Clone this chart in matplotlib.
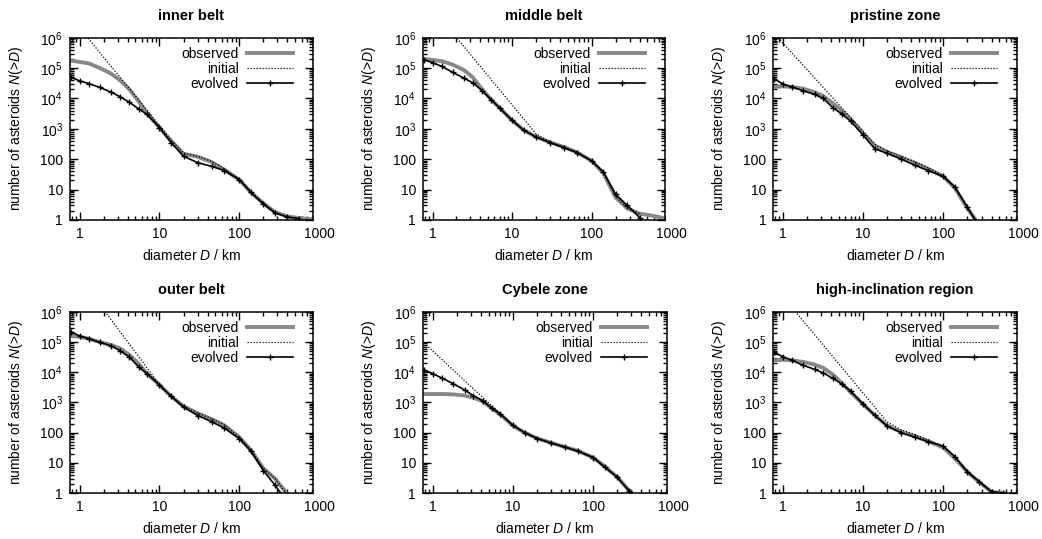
#!/usr/bin/python
# Cumulative size distributions N(>D) for six asteroid belt regions
# observed / initial / evolved populations

import numpy as np
import matplotlib
matplotlib.use('Agg')
import matplotlib.pyplot as plt
from matplotlib.ticker import LogLocator, FixedLocator, FixedFormatter, NullFormatter

plt.rcParams['font.family'] = ['Liberation Sans', 'DejaVu Sans']
plt.rcParams['mathtext.fontset'] = 'custom'
plt.rcParams['mathtext.rm'] = 'Liberation Sans'
plt.rcParams['mathtext.it'] = 'Liberation Sans:italic'
plt.rcParams['mathtext.default'] = 'regular'

nan = np.nan

# common diameter grid in km (observed and evolved curves)
diam = [0.78, 1.0, 1.3, 1.8, 2.5, 3.2, 4.2, 5.5, 7, 10, 14, 20, 30, 45, 65, 100, 140, 200, 280, 400, 560, 800]

# inner belt
inner_obs = [1.75e5, 1.6e5, 1.43e5, 1e5, 6.5e4, 4e4, 2e4, 8e3, 3.2e3, 1.1e3, 400, 150, 120, 80, 45, 21, 8, 3.5, 1.8, 1.3, 1.15, 1.05]
inner_evo = [5e4, 3.8e4, 3.1e4, 2.3e4, 1.6e4, 1.15e4, 7.5e3, 4.5e3, 3e3, 1.1e3, 350, 125, 77, 58, 42, 21, 8, 3.3, 1.7, 1.25, 1.1, nan]
inner_init_d = [0.78, 10, 14, 20, 30, 45, 65, 100, 140, 200, 280]
inner_init = [4.7e6, 1.3e3, 420, 160, 125, 85, 48, 22, 8.5, 3.6, 1.8]

# middle belt
middle_obs = [2e5, 1.85e5, 1.7e5, 1.3e5, 8.5e4, 5e4, 2e4, 9e3, 4.8e3, 1.9e3, 900, 540, 360, 250, 170, 88, 35, 5.5, 2.4, 1.6, 1.4, 1.15]
middle_evo = [1.9e5, 1.5e5, 1.15e5, 7.2e4, 4.6e4, 3.3e4, 1.8e4, 9e3, 4.8e3, 1.9e3, 900, 540, 350, 240, 165, 88, 38, 7, 3, 1.2, nan, nan]
middle_init_d = [0.78, 20, 30, 45, 65, 100, 140, 200, 280, 400]
middle_init = [2e7, 680, 370, 255, 172, 90, 36, 6, 2.4, 1.6]

# pristine zone
pristine_obs = [2.4e4, 2.5e4, 2.4e4, 2.1e4, 1.6e4, 1.2e4, 7e3, 3.8e3, 2.1e3, 730, 280, 175, 115, 75, 48, 27, 11, 2.4, 0.7, nan, nan, nan]
pristine_evo = [4.5e4, 3e4, 2.4e4, 1.8e4, 1.35e4, 1e4, 5e3, 3e3, 1.8e3, 630, 220, 155, 100, 62, 42, 27, 12, 2.6, 0.6, nan, nan, nan]
pristine_init_d = [0.78, 11, 14, 20, 30, 45, 65, 100, 140, 200, 280]
pristine_init = [1.4e6, 630, 310, 185, 122, 80, 52, 29, 12, 2.6, 0.7]

# outer belt
outer_obs = [1.6e5, 1.5e5, 1.3e5, 1e5, 8e4, 6.2e4, 3.8e4, 1.9e4, 9e3, 3.8e3, 1.6e3, 750, 440, 280, 175, 70, 26, 6.5, 3, 0.9, nan, nan]
outer_evo = [2.2e5, 1.6e5, 1.3e5, 9.8e4, 7.5e4, 5.2e4, 3.2e4, 1.5e4, 9e3, 3.8e3, 1.6e3, 700, 370, 230, 140, 63, 24, 5.5, 1.8, 0.5, nan, nan]
outer_init_d = [0.78, 11, 14, 20, 30, 45, 65, 100, 140, 200, 280, 400]
outer_init = [3.4e7, 2.8e3, 1.65e3, 760, 450, 290, 180, 72, 27, 6.5, 3, 0.9]

# Cybele zone
cybele_obs = [1.9e3, 1.9e3, 1.9e3, 1.85e3, 1.7e3, 1.45e3, 1.1e3, 620, 400, 170, 100, 65, 46, 33, 25, 15, 7.5, 3.4, 1.2, 0.5, nan, nan]
cybele_evo = [1.2e4, 9e3, 6.5e3, 4.2e3, 2.6e3, 1.7e3, 1.15e3, 640, 410, 175, 100, 64, 45, 33, 24, 15, 7.2, 3.3, 1.2, 0.5, nan, nan]
cybele_init_d = [0.78, 7, 10, 14, 20, 30, 45, 65, 100, 140, 200, 280]
cybele_init = [9.4e4, 420, 175, 102, 66, 47, 34, 25, 15, 7.5, 3.4, 1.2]

# high-inclination region
highinc_obs = [2.5e4, 2.6e4, 2.5e4, 2.2e4, 1.8e4, 1.4e4, 8.5e3, 4.2e3, 2.2e3, 880, 380, 170, 105, 75, 52, 32, 14, 5, 2.3, 1.1, 1.0, nan]
highinc_evo = [4.6e4, 3.3e4, 2.5e4, 1.7e4, 1.25e4, 9.5e3, 6.3e3, 4e3, 2.4e3, 880, 380, 165, 100, 70, 50, 36, 16, 5, 2.4, 1.1, 1.0, nan]
highinc_init_d = [0.78, 20, 30, 45, 65, 100, 140, 200, 280, 400]
highinc_init = [7.3e6, 225, 125, 85, 58, 34, 15, 5.2, 2.4, 1.1]

titles = ["inner belt", "middle belt", "pristine zone", "outer belt", "Cybele zone", "high-inclination region"]
obs_list = [inner_obs, middle_obs, pristine_obs, outer_obs, cybele_obs, highinc_obs]
evo_list = [inner_evo, middle_evo, pristine_evo, outer_evo, cybele_evo, highinc_evo]
init_d_list = [inner_init_d, middle_init_d, pristine_init_d, outer_init_d, cybele_init_d, highinc_init_d]
init_list = [inner_init, middle_init, pristine_init, outer_init, cybele_init, highinc_init]

ytick_vals = [1, 10, 100, 1e3, 1e4, 1e5, 1e6]
ytick_labels = ['1', '10', '100', '$10^3$', '$10^4$', '$10^5$', '$10^6$']
xtick_vals = [1, 10, 100]
xtick_labels = ['1', '10', '100', '1000']

# axes positions [left, bottom, width, height] in figure fraction
positions = [[0.0672, 0.592, 0.233, 0.338],
             [0.406, 0.592, 0.232, 0.338],
             [0.742, 0.592, 0.234, 0.338],
             [0.0672, 0.0853, 0.233, 0.336],
             [0.406, 0.0853, 0.234, 0.336],
             [0.742, 0.0853, 0.234, 0.336]]

fig = plt.figure(figsize=(10.42, 5.39), dpi=100)

for i in range(6):
    ax = fig.add_axes(positions[i])
    ax.set_xscale('log')
    ax.set_yscale('log')

    ax.plot(diam, obs_list[i], '-', color='#888888', lw=2.8, label='observed', zorder=2)
    ax.plot(init_d_list[i], init_list[i], color='k', lw=0.9, linestyle=(0, (1, 1.4)), label='initial', zorder=3)
    ax.plot(diam, evo_list[i], 'k-', lw=1.2, marker='+', ms=5, mew=1.0, label='evolved', zorder=4)

    ax.set_xlim(0.76, 830)
    ax.set_ylim(1, 1e6)

    ax.yaxis.set_major_locator(FixedLocator(ytick_vals))
    ax.yaxis.set_major_formatter(FixedFormatter(ytick_labels))
    ax.yaxis.set_minor_locator(LogLocator(base=10, subs=np.arange(2, 10), numticks=20))
    ax.yaxis.set_minor_formatter(NullFormatter())
    ax.xaxis.set_major_locator(FixedLocator(xtick_vals))
    ax.xaxis.set_major_formatter(FixedFormatter(xtick_labels[:3]))
    ax.xaxis.set_minor_locator(LogLocator(base=10, subs=np.arange(2, 10), numticks=20))
    ax.xaxis.set_minor_formatter(NullFormatter())

    ax.tick_params(which='both', direction='in', top=True, right=True, labelsize=10, width=1.0)
    ax.tick_params(which='major', length=6, pad=5)
    ax.tick_params(which='minor', length=3)
    for sp in ax.spines.values():
        sp.set_linewidth(1.1)

    # gnuplot puts the 1000 label just outside the right edge
    ax.text(1000, -0.04, xtick_labels[3], transform=ax.get_xaxis_transform(),
            ha='center', va='top', fontsize=10)

    ax.set_title(titles[i], fontsize=10.5, fontweight='bold', pad=13)
    ax.set_xlabel('diameter $\\mathit{D}$ / km', fontsize=10, labelpad=5)
    ax.set_ylabel('number of asteroids $\\mathit{N}$(>$\\mathit{D}$)', fontsize=10, labelpad=11)

    ax.legend(loc='upper right', bbox_to_anchor=(0.955, 1.0), frameon=False, markerfirst=False, fontsize=10,
              handlelength=3.3, handletextpad=0.6, labelspacing=0.08, borderaxespad=0.25)

plt.savefig('out.png', dpi=100)
plt.close()
